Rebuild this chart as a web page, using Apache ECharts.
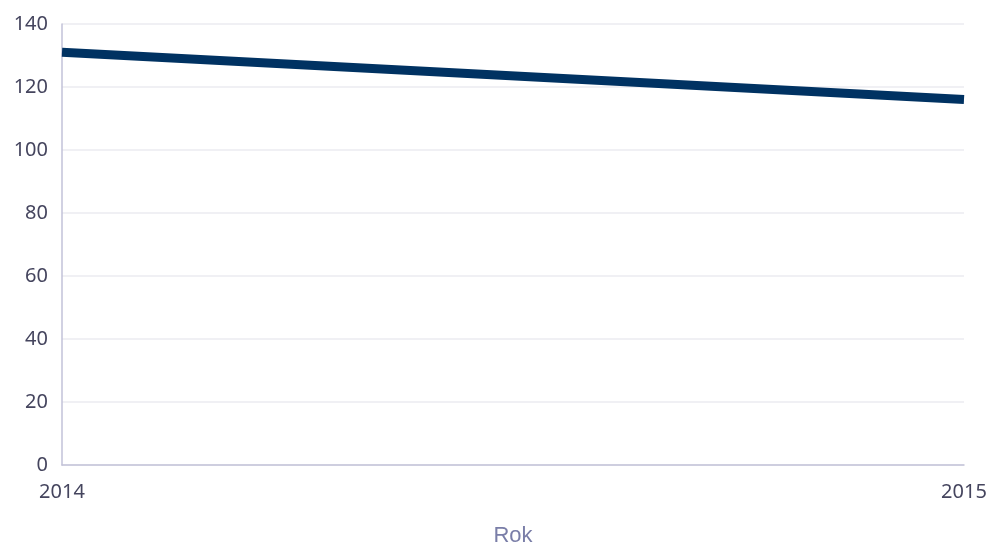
<!DOCTYPE html>
<html>
<head>
<meta charset="utf-8">
<script src="https://cdn.jsdelivr.net/npm/echarts@6/dist/echarts.min.js"></script>
<style>
html,body{margin:0;padding:0;background:#fff;}
#chart{width:987px;height:549px;}
</style>
</head>
<body>
<div id="chart"></div>
<script>
const categories = ['2014', '2015'];
const values = [131, 116];
const yTicks = { min: 0, max: 140, interval: 20 };
const xAxisName = 'Rok';

const chart = echarts.init(document.getElementById('chart'), null, { renderer: 'canvas' });
chart.setOption({
  animation: false,
  backgroundColor: '#ffffff',
  grid: { left: 62, right: 23, top: 24, bottom: 84, containLabel: false, outerBoundsMode: 'none' },
  xAxis: {
    type: 'category',
    data: categories,
    boundaryGap: false,
    name: xAxisName,
    nameLocation: 'middle',
    nameGap: 60,
    nameTextStyle: { color: '#7a7ea8', fontSize: 22, fontFamily: 'Liberation Sans' },
    axisLine: { show: true, lineStyle: { color: '#c2c2d8', width: 1.5 } },
    axisTick: { show: false },
    axisLabel: { color: '#45455e', fontSize: 20, fontFamily: 'Noto Sans', margin: 17 },
    splitLine: { show: false }
  },
  yAxis: {
    type: 'value',
    min: yTicks.min,
    max: yTicks.max,
    interval: yTicks.interval,
    axisLine: { show: true, lineStyle: { color: '#c2c2d8', width: 1.5 } },
    axisTick: { show: false },
    axisLabel: { color: '#45455e', fontSize: 20, fontFamily: 'Noto Sans', margin: 14 },
    splitLine: { show: true, lineStyle: { color: '#ebebf1', width: 1.5 } }
  },
  series: [{
    type: 'line',
    data: values,
    symbol: 'none',
    lineStyle: { color: '#003262', width: 9 }
  }]
});
</script>
</body>
</html>
